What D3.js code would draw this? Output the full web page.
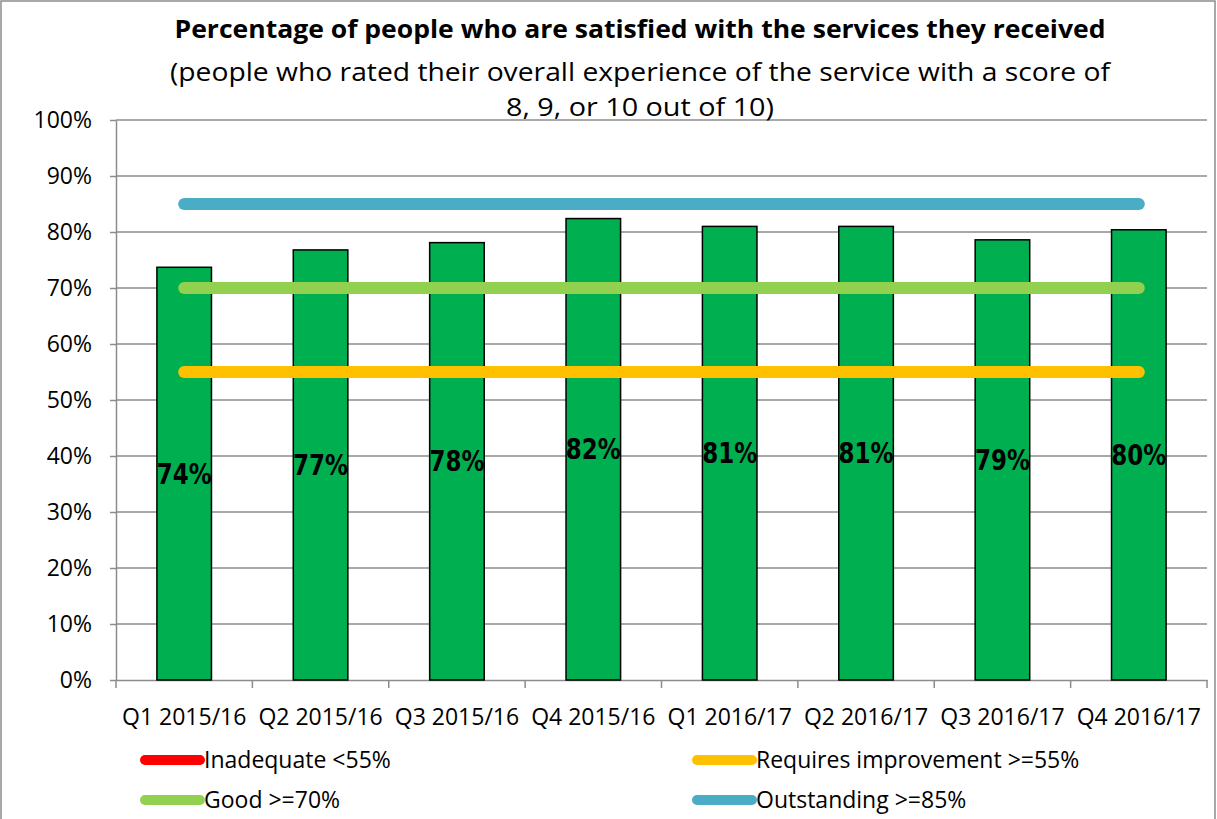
<!DOCTYPE html>
<html lang="en">
<head>
  <meta charset="UTF-8" />
  <title>Satisfaction chart</title>
  <style>
    body { margin: 0; background: #fff; }
    svg { display: block; font-family: "Open Sans", sans-serif; }
    .grid line { stroke: #8c8c8c; stroke-width: 1.5px; }
    .axis path, .axis line { stroke: #8c8c8c; stroke-width: 1.5px; }
    .axis text { fill: #000; font-size: 23px; font-family: "Open Sans", sans-serif; }
    .bar { fill: #00b050; stroke: #000; stroke-width: 1.5px; }
    .label { font-family: "DejaVu Sans", sans-serif; font-weight: bold; font-size: 28px; fill: #000; }
  </style>
</head>
<body>
  <svg width="1217" height="819"></svg>
  <script src="https://d3js.org/d3.v7.min.js"></script>
  <script>
    const quarters = ["Q1 2015/16", "Q2 2015/16", "Q3 2015/16", "Q4 2015/16",
                      "Q1 2016/17", "Q2 2016/17", "Q3 2016/17", "Q4 2016/17"];
    const satisfied = [73.7, 76.8, 78.1, 82.4, 81.0, 81.0, 78.6, 80.4];
    const labels = ["74%", "77%", "78%", "82%", "81%", "81%", "79%", "80%"];
    const yTicks = [0, 10, 20, 30, 40, 50, 60, 70, 80, 90, 100];

    const thresholds = [
      { name: "Inadequate <55%", value: null, color: "#ff0000" },
      { name: "Requires improvement >=55%", value: 55, color: "#ffc000" },
      { name: "Good >=70%", value: 70, color: "#92d050" },
      { name: "Outstanding >=85%", value: 85, color: "#4bacc6" }
    ];

    const svg = d3.select("svg");
    const plotLeft = 116, plotRight = 1207, plotTop = 120, plotBottom = 680;

    // chart frame
    svg.append("rect")
      .attr("x", 1).attr("y", 1).attr("width", 1214).attr("height", 830)
      .attr("fill", "none").attr("stroke", "#8c8c8c").attr("stroke-width", 1.5);

    const x = d3.scaleBand().domain(quarters).range([plotLeft, plotRight]);
    const y = d3.scaleLinear().domain([0, 100]).range([plotBottom, plotTop]);

    // gridlines
    svg.append("g").attr("class", "grid")
      .selectAll("line").data(yTicks.slice(1)).enter().append("line")
      .attr("x1", plotLeft).attr("x2", plotRight)
      .attr("y1", d => y(d)).attr("y2", d => y(d));

    // axes
    const yAxis = svg.append("g").attr("class", "axis")
      .attr("transform", `translate(${plotLeft},0)`)
      .call(d3.axisLeft(y).tickValues(yTicks).tickFormat(d => d + "%").tickSize(6).tickSizeOuter(0));
    yAxis.selectAll("text").attr("dx", "-15");

    const xAxis = svg.append("g").attr("class", "axis")
      .attr("transform", `translate(0,${plotBottom})`)
      .call(d3.axisBottom(x).tickSize(0).tickSizeOuter(0));
    xAxis.selectAll("text").attr("dy", "42");
    // tick marks at category boundaries
    xAxis.selectAll(".bound").data(quarters.concat([null])).enter().append("line")
      .attr("class", "bound")
      .attr("x1", (d, i) => plotLeft + i * x.step()).attr("x2", (d, i) => plotLeft + i * x.step())
      .attr("y1", 0).attr("y2", 8);

    // bars
    const barW = x.bandwidth() * 0.4;
    svg.append("g").selectAll("rect").data(satisfied).enter().append("rect")
      .attr("class", "bar")
      .attr("x", (d, i) => x(quarters[i]) + x.bandwidth() / 2 - barW / 2)
      .attr("width", barW)
      .attr("y", d => y(d))
      .attr("height", d => y(0) - y(d));

    // threshold lines
    const x0 = x(quarters[0]) + x.bandwidth() / 2;
    const x1 = x(quarters[quarters.length - 1]) + x.bandwidth() / 2;
    svg.append("g").selectAll("line").data(thresholds.filter(t => t.value !== null)).enter().append("line")
      .attr("x1", x0).attr("x2", x1)
      .attr("y1", d => y(d.value)).attr("y2", d => y(d.value))
      .attr("stroke", d => d.color).attr("stroke-width", 12).attr("stroke-linecap", "round");

    // data labels (centred in bar)
    svg.append("g").selectAll("text").data(satisfied).enter().append("text")
      .attr("class", "label")
      .attr("x", (d, i) => x(quarters[i]) + x.bandwidth() / 2)
      .attr("y", d => (y(d) + y(0)) / 2)
      .attr("dy", "0.36em")
      .attr("text-anchor", "middle")
      .attr("textLength", 55).attr("lengthAdjust", "spacingAndGlyphs")
      .text((d, i) => labels[i]);

    // title
    const title = svg.append("g").attr("text-anchor", "middle");
    title.append("text").attr("x", 640).attr("y", 38)
      .attr("font-size", 25).attr("font-weight", "bold")
      .attr("textLength", 931).attr("lengthAdjust", "spacingAndGlyphs")
      .text("Percentage of people who are satisfied with the services they received");
    title.append("text").attr("x", 640).attr("y", 81)
      .attr("font-size", 25)
      .attr("textLength", 940).attr("lengthAdjust", "spacingAndGlyphs")
      .text("(people who rated their overall experience of the service  with a score of");
    title.append("text").attr("x", 640).attr("y", 116)
      .attr("font-size", 25)
      .attr("textLength", 268).attr("lengthAdjust", "spacingAndGlyphs")
      .text("8, 9, or 10 out of 10)");

    // legend
    const legendPos = [[145, 760], [697, 760], [145, 800], [697, 800]];
    const legend = svg.append("g").selectAll("g").data(thresholds).enter().append("g")
      .attr("transform", (d, i) => `translate(${legendPos[i][0]},${legendPos[i][1]})`);
    legend.append("line")
      .attr("x1", 0).attr("x2", 55).attr("y1", 0).attr("y2", 0)
      .attr("stroke", d => d.color).attr("stroke-width", 10).attr("stroke-linecap", "round");
    legend.append("text")
      .attr("x", 59).attr("dy", "0.35em")
      .attr("font-size", 23)
      .text(d => d.name);
  </script>
</body>
</html>
